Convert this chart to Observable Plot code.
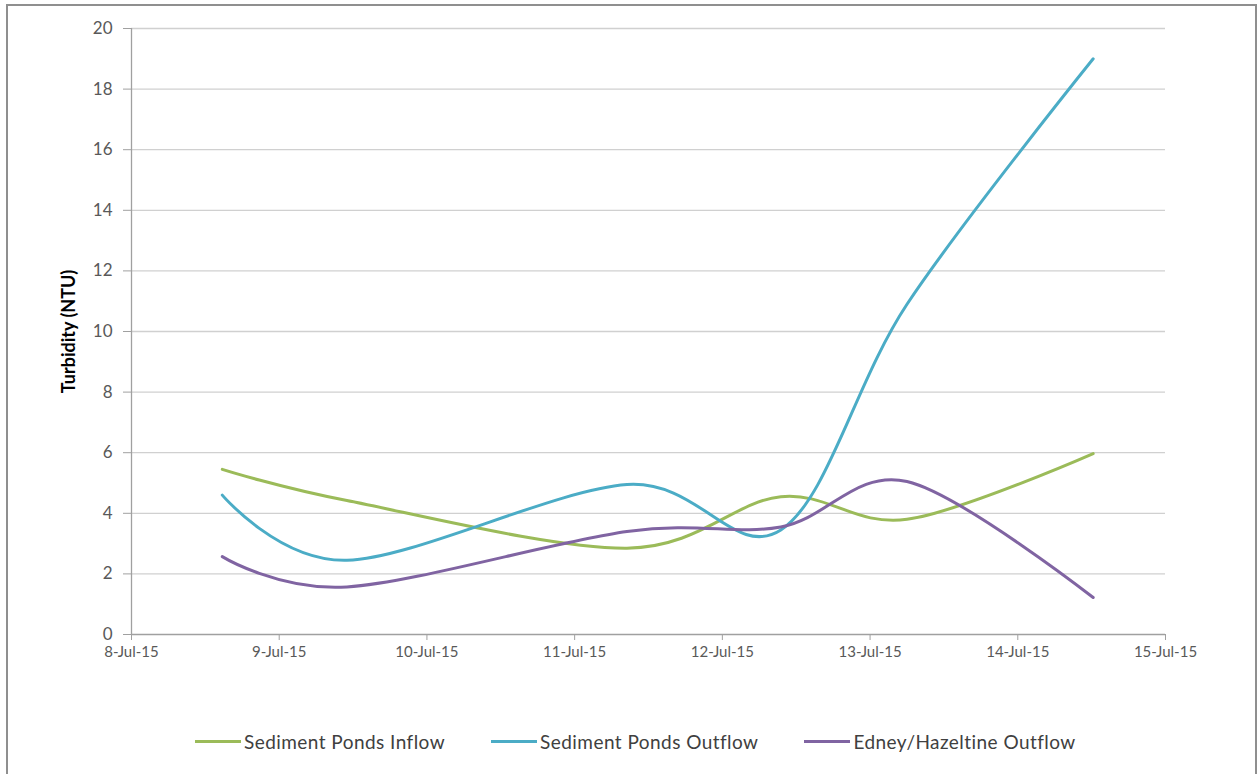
<!DOCTYPE html>
<html>
<head>
<meta charset="utf-8">
<script src="https://cdn.jsdelivr.net/npm/d3@7"></script>
<script src="https://cdn.jsdelivr.net/npm/@observablehq/plot@0.6"></script>
<style>
  html, body { margin: 0; padding: 0; background: #fff; }
  body { position: relative; width: 1257px; height: 774px; overflow: hidden; font-family: Lato, "Open Sans", sans-serif; }
  #frame { position: absolute; left: 6px; top: 4px; width: 1247px; height: 800px; border: 2px solid #8f8f8f; border-bottom: none; pointer-events: none; }
  #chart { position: absolute; left: 0; top: 0; }
  #legend { position: absolute; left: 195px; top: 730px; display: flex; align-items: center; font-size: 19px; letter-spacing: 0.45px; color: #404040; }
  .item { display: flex; align-items: center; margin-right: 46px; }
  .swatch { width: 46px; height: 3px; margin-right: 3px; }
</style>
</head>
<body>
<div id="chart"></div>
<div id="legend"></div>
<div id="frame"></div>
<script>
// ---- data ----
const sampleDates = ["2015-07-08T14:45Z", "2015-07-09T11:00Z", "2015-07-11T08:30Z", "2015-07-12T09:30Z", "2015-07-13T06:00Z", "2015-07-14T12:15Z"];
const seriesNames = ["Sediment Ponds Inflow", "Sediment Ponds Outflow", "Edney/Hazeltine Outflow"];
const inflow  = [5.45, 4.42, 2.85, 4.55, 3.8, 5.97];
const outflow = [4.6, 2.45, 4.95, 3.45, 10.9, 19.0];
const edney   = [2.57, 1.57, 3.4, 3.55, 5.05, 1.22];
const seriesColors = ["#9BBB59", "#4BACC6", "#8064A2"];
const yTicks = [0, 2, 4, 6, 8, 10, 12, 14, 16, 18, 20];
const xTickDates = ["2015-07-08", "2015-07-09", "2015-07-10", "2015-07-11", "2015-07-12", "2015-07-13", "2015-07-14", "2015-07-15"];
const yLabel = "Turbidity (NTU)";

// ---- build table ----
const valuesBySeries = [inflow, outflow, edney];
const rows = [];
seriesNames.forEach((name, i) => {
  sampleDates.forEach((d, j) => rows.push({series: name, date: new Date(d), value: valuesBySeries[i][j]}));
});
const xTicks = xTickDates.map(d => new Date(d + "T00:00Z"));
const fmt = d3.utcFormat("%-d-%b-%y");

const chart = Plot.plot({
  width: 1257,
  height: 700,
  marginLeft: 131,
  marginRight: 92,
  marginTop: 28,
  marginBottom: 66,
  style: {fontFamily: "Lato, 'Open Sans', sans-serif", background: "transparent"},
  x: {type: "utc", domain: [xTicks[0], xTicks[xTicks.length - 1]]},
  y: {domain: [0, 20]},
  color: {domain: seriesNames, range: seriesColors},
  marks: [
    Plot.gridY(yTicks.filter(t => t > 0), {stroke: "#d0d0d0", strokeOpacity: 1, strokeWidth: 1.3}),
    Plot.ruleY([0], {stroke: "#a0a0a0", strokeWidth: 1.3}),
    Plot.ruleX([xTicks[0]], {stroke: "#a0a0a0", strokeWidth: 1.3}),
    Plot.axisY(yTicks, {tickSize: 8, tickPadding: 11, fontSize: 17, color: "#595959", stroke: "#a0a0a0", label: null}),
    Plot.axisX(xTicks, {tickSize: 6, tickPadding: 6, fontSize: 15, color: "#595959", stroke: "#a0a0a0", tickFormat: fmt, label: null}),
    Plot.text([yLabel], {frameAnchor: "left", textAnchor: "middle", dx: -62, rotate: -90, fontSize: 18, fontWeight: "bold", fill: "#000"}),
    Plot.line(rows, {x: "date", y: "value", z: "series", stroke: "series", curve: "cardinal", tension: 0, strokeWidth: 3})
  ]
});
document.getElementById("chart").appendChild(chart);

// ---- legend ----
const legend = document.getElementById("legend");
seriesNames.forEach((name, i) => {
  const item = document.createElement("div");
  item.className = "item";
  const sw = document.createElement("div");
  sw.className = "swatch";
  sw.style.background = seriesColors[i];
  const label = document.createElement("span");
  label.textContent = name;
  item.appendChild(sw);
  item.appendChild(label);
  legend.appendChild(item);
});
</script>
</body>
</html>
